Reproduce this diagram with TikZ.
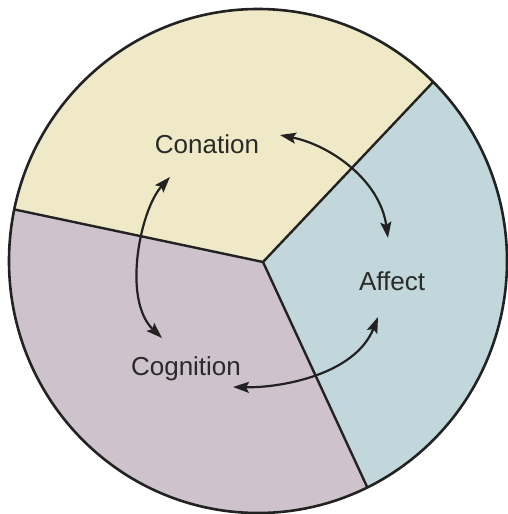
\documentclass[tikz,border=0pt]{standalone}
\usepackage{fontspec}
\setmainfont{Liberation Sans}
\usetikzlibrary{arrows.meta,calc}

\definecolor{conationfill}{RGB}{239,233,200}
\definecolor{cognitionfill}{RGB}{206,194,204}
\definecolor{affectfill}{RGB}{194,215,220}
\definecolor{inkline}{RGB}{34,34,34}
\definecolor{inktext}{RGB}{42,42,38}

\tikzset{
  divider/.style={draw=inkline, line width=2.4pt},
  rim/.style={draw=inkline, line width=2.6pt},
  label/.style={text=inktext, inner sep=0pt, anchor=base,
                font=\fontsize{26}{31}\selectfont},
  cycle/.style={draw=inkline, line width=2.2pt,
                {Stealth[length=16pt,width=11pt,inset=3pt]}-{Stealth[length=16pt,width=11pt,inset=3pt]}}
}

\begin{document}
\begin{tikzpicture}[x=1pt,y=-1pt]
  \useasboundingbox (0,0) rectangle (508,514);

  % hub and the three points where the dividers meet the rim
  \coordinate (hub) at (263,262);
  \coordinate (rimNE) at (435,80);
  \coordinate (rimW) at (17,210);
  \coordinate (rimS) at (369,491);
  \coordinate (mid) at (258,261);

  % sectors
  \begin{scope}
    \clip (mid) ellipse [x radius=249pt, y radius=252pt];
    \fill[cognitionfill] (-20,-20) rectangle (540,540);
    \fill[conationfill] (hub) -- ($(hub)!1.5!(rimNE)$) -- (-40,-20) -- ($(hub)!1.2!(rimW)$) -- cycle;
    \fill[affectfill] (hub) -- ($(hub)!1.5!(rimNE)$) -- (540,-20) -- (540,540) -- ($(hub)!1.25!(rimS)$) -- cycle;
    \draw[divider] (hub) -- ($(hub)!1.1!(rimNE)$);
    \draw[divider] (hub) -- ($(hub)!1.1!(rimW)$);
    \draw[divider] (hub) -- ($(hub)!1.1!(rimS)$);
  \end{scope}
  \draw[rim] (mid) ellipse [x radius=249pt, y radius=252pt];

  % labels
  \node[label] (conation) at (207,153) {Conation};
  \node[label] (affect) at (392,290) {Affect};
  \node[label] (cognition) at (186,375) {Cognition};

  % arrow ends beside each label
  \coordinate (conR) at (280,135);
  \coordinate (conB) at (170,177);
  \coordinate (affT) at (388,238);
  \coordinate (affB) at (378,317);
  \coordinate (cogT) at (162,338);
  \coordinate (cogR) at (233,387);

  % cycle of influence
  \draw[cycle] (conR) .. controls (330,145) and (380,180) .. (affT);
  \draw[cycle] (conB) .. controls (140,210) and (122,300) .. (cogT);
  \draw[cycle] (cogR) .. controls (280,388) and (355,375) .. (affB);
\end{tikzpicture}
\end{document}
